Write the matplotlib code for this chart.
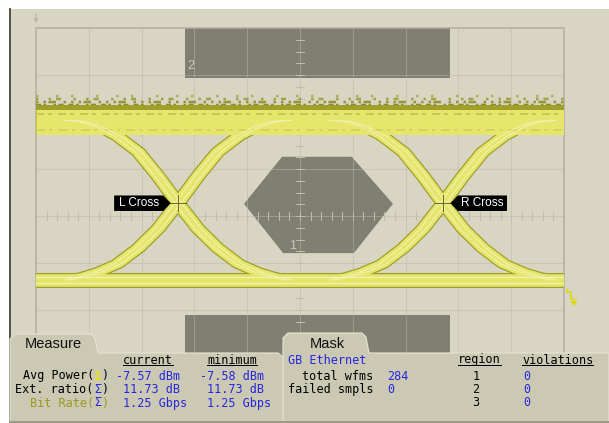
import matplotlib
matplotlib.use('Agg')
import matplotlib.pyplot as plt
from matplotlib.patches import Polygon, Rectangle
import numpy as np

# --- eye diagram, in screen divisions (10 x 8, centre = 0) ---
top_level = 2.04
bottom_level = -1.36
crossings = [2.69, 7.71]
# rising edge: time from crossing (div) / fraction of swing
edge_dt = [-2.1, -1.8, -1.5, -1.15, -0.75, -0.38, 0.0, 0.38, 0.75, 1.15, 1.5, 1.8, 2.1]
edge_frac = [0.0, 0.02, 0.05, 0.1, 0.2, 0.32, 0.48, 0.65, 0.8, 0.9, 0.96, 0.99, 1.0]

# mask regions
mask1_t = [3.94, 4.66, 5.98, 6.76, 6.02, 4.68]
mask1_v = [0.26, 1.26, 1.26, 0.26, -0.79, -0.79]
mask2_t = [2.82, 7.84]
mask2_v = [2.94, 4.0]
mask3_t = [2.82, 7.84]
mask3_v = [-4.0, -2.11]

# measurement panel
meas_names = ['Avg Power', 'Ext. ratio', 'Bit Rate']
meas_src = ['1', 'Σ', 'Σ']
meas_current = ['-7.57 dBm', '11.73 dB', '1.25 Gbps']
meas_minimum = ['-7.58 dBm', '11.73 dB', '1.25 Gbps']
mask_name = 'GB Ethernet'
total_wfms = 284
failed_smpls = 0
mask_regions = ['1', '2', '3']
mask_violations = [0, 0, 0]

W, H = 609, 423
PX = 0.72  # px -> pt
BG = '#d8d6c3'
MASK = '#817f71'
OLIVE = '#9f9f2c'
YEL = '#e6e66c'
BLUE = '#2626e0'
MONO = 'DejaVu Sans Mono'
SANS = 'Liberation Sans'

fig = plt.figure(figsize=(W / 100, H / 100), dpi=100)
fig.patch.set_facecolor('white')


def pixel_axes(z):
    ax = fig.add_axes([0, 0, 1, 1])
    ax.set_xlim(0, W)
    ax.set_ylim(H, 0)
    ax.axis('off')
    ax.set_zorder(z)
    ax.patch.set_alpha(0)
    return ax


# background
bg = pixel_axes(0)
bg.add_patch(Rectangle((9, 9), W - 9, H - 9, color=BG, lw=0))
bg.plot([9.5, 9.5], [9, H], color='#56564c', lw=2 * PX)
bg.annotate('', xy=(36, 26), xytext=(36, 11),
            arrowprops=dict(arrowstyle='-|>', color='#bdb7ab', lw=1.2 * PX, mutation_scale=6))
# ground marker on the right
bg.plot([567, 571, 571, 574, 574], [292, 292, 299, 299, 302], color='#e0d800', lw=1.5 * PX)
bg.add_patch(Polygon([[570.5, 301], [577.5, 301], [574, 306]], color='#e0d800', lw=0))
bg.plot([567, 567], [289, 292], color='#e0d800', lw=1.5 * PX)

# scope screen
ax = fig.add_axes([36 / W, 1 - 404 / H, 528 / W, 376 / H])
ax.set_zorder(1)
ax.patch.set_alpha(0)
ax.set_xlim(0, 10)
ax.set_ylim(-4, 4)
ax.axis('off')

ax.add_patch(Polygon(np.column_stack([mask1_t, mask1_v]), color=MASK, lw=0, zorder=1))
ax.add_patch(Rectangle((mask2_t[0], mask2_v[0]), mask2_t[1] - mask2_t[0], mask2_v[1] - mask2_v[0],
                       color=MASK, lw=0, zorder=1))
ax.add_patch(Rectangle((mask3_t[0], mask3_v[0]), mask3_t[1] - mask3_t[0], mask3_v[1] - mask3_v[0],
                       color=MASK, lw=0, zorder=1))
ax.text(mask2_t[0] + 0.05, mask2_v[0] + 0.12, '2', color='#cfcbb8', fontsize=9, family=SANS,
        ha='left', va='bottom', zorder=2)
ax.text(4.85, -0.64, '1', color='#cfcbb8', fontsize=9, family=SANS, ha='center', va='center', zorder=2)

# graticule
gc = '#bdb8a6'
for i in range(1, 10):
    ax.plot([i, i], [-4, 4], color=gc, lw=1 * PX, ls=(0, (1, 1)), zorder=3)
for j in range(-3, 4):
    ax.plot([0, 10], [j, j], color=gc, lw=1 * PX, ls=(0, (1, 1)), zorder=3)
for t in np.arange(0.2, 10, 0.2):
    ax.plot([t, t], [-0.08, 0.08], color='#c2bcaa', lw=1 * PX, zorder=3)
for v in np.arange(-3.75, 4, 0.25):
    ax.plot([4.92, 5.08], [v, v], color='#c2bcaa', lw=1 * PX, zorder=3)
ax.add_patch(Rectangle((0, -4), 10, 8, fill=False, ec='#b4aba0', lw=1.5 * PX, zorder=3, clip_on=False))

# eye traces
paths = []
swing = top_level - bottom_level
edge_v = bottom_level + np.array(edge_frac) * swing
for c in crossings:
    for off in (-0.06, 0.06):
        paths.append((c + np.array(edge_dt) + off, edge_v))
        paths.append((c - np.array(edge_dt) + off, edge_v))
# flat levels
bot_paths = [([0, 10], [bottom_level + d, bottom_level + d]) for d in (-0.07, 0.07)]

# speckled fringe on the "one" level
fringe = [(0.27, '#7f7f22', (0, (1, 1, 2, 1, 1, 2, 3, 1))),
          (0.33, '#8c8c2a', (0, (2, 1, 1, 3, 1, 1, 2, 2))),
          (0.39, '#96963a', (0, (1, 2, 1, 1, 3, 3, 1, 2))),
          (0.45, '#a2a24a', (0, (1, 4, 1, 2, 2, 5))),
          (0.51, '#adad5a', (0, (1, 7, 1, 5, 1, 9)))]
for dv, col, ls in fringe:
    ax.plot([0, 10], [top_level + dv, top_level + dv], color=col, lw=2.5 * PX, ls=ls, zorder=4)

# outlines
ax.plot([0, 10], [top_level, top_level], color=OLIVE, lw=30 * PX, zorder=5, solid_capstyle='butt')
for t, v in paths + bot_paths:
    ax.plot(t, v, color=OLIVE, lw=9 * PX, zorder=5, solid_joinstyle='round')
# fill
ax.plot([0, 10], [top_level - 0.04, top_level - 0.04], color=YEL, lw=25 * PX, zorder=6, solid_capstyle='butt')
for t, v in paths + bot_paths:
    ax.plot(t, v, color=YEL, lw=6.5 * PX, zorder=6, solid_joinstyle='round')
ax.plot([0, 10], [top_level + 0.12, top_level + 0.12], color='#c8c850', lw=2 * PX, zorder=6,
        ls=(0, (4, 2, 2, 3)))
ax.plot([0, 10], [top_level - 0.2, top_level - 0.2], color='#cfcf58', lw=1.5 * PX, zorder=6,
        ls=(0, (6, 3, 2, 4)))
for t, v in paths + bot_paths:
    ax.plot(t, v, color='#f2f2b4', lw=1 * PX, zorder=7)

# crossing markers and labels
v_cross = bottom_level + edge_frac[edge_dt.index(0.0)] * swing
for k, c in enumerate(crossings):
    ax.plot([c - 0.15, c + 0.15], [v_cross, v_cross], color='#6d6d1c', lw=1 * PX, zorder=8)
    ax.plot([c, c], [v_cross - 0.17, v_cross + 0.17], color='#6d6d1c', lw=1 * PX, zorder=8)
    s = -1 if k == 0 else 1
    tip = c + s * 0.14
    body = c + s * 0.28
    end = c + s * 1.21
    h = 0.165
    ax.add_patch(Polygon([[tip, v_cross], [body, v_cross + h], [end, v_cross + h],
                          [end, v_cross - h], [body, v_cross - h]], color='black', lw=0, zorder=8))
    ax.text((body + end) / 2, v_cross, 'L Cross' if k == 0 else 'R Cross', color='white',
            fontsize=8.5, family=SANS, ha='center', va='center', zorder=9)

# bottom panels
ov = pixel_axes(2)
PANEL = '#cbc9b3'
measure_poly = [(10, H), (10, 339), (15, 334), (91, 334), (95, 338), (98, 353),
                (278, 353), (284, 358), (284, H)]
mask_poly = [(283, H), (283, 338), (288, 333), (362, 333), (366, 337), (369, 353), (W, 353), (W, H)]
for poly in (measure_poly, mask_poly):
    ov.add_patch(Polygon(poly, closed=True, fc=PANEL, ec='#e4e2d0', lw=1.2 * PX))
ov.plot([10, W], [H - 1, H - 1], color='#9c9a86', lw=2 * PX)

ov.text(25, 344, 'Measure', family=SANS, fontsize=10.5, va='center', ha='left', color='#111111')
ov.text(310, 344, 'Mask', family=SANS, fontsize=10.5, va='center', ha='left', color='#111111')

cw = 7.1
fs = 8.5
rows_y = [376, 389.5, 403]
head_y = 360

for x0, word in ((123, 'current'), (207, 'minimum'), (458, 'region'), (522, 'violations')):
    ov.text(x0, head_y, word, family=MONO, fontsize=fs, va='center', ha='left', color='black')
    ov.plot([x0, x0 + len(word) * cw], [head_y + 5.5, head_y + 5.5], color='black', lw=1 * PX)

for i, y in enumerate(rows_y):
    lab_col = '#9a9a1e' if meas_names[i] == 'Bit Rate' else 'black'
    src_col = '#ece400' if meas_src[i] == '1' else BLUE
    ov.text(108, y, ')', family=MONO, fontsize=fs, va='center', ha='right', color=lab_col)
    ov.text(108 - cw, y, meas_src[i], family=MONO, fontsize=fs, va='center', ha='right', color=src_col,
            fontweight='bold' if meas_src[i] == '1' else 'normal')
    ov.text(108 - 2 * cw, y, meas_names[i] + '(', family=MONO, fontsize=fs, va='center', ha='right',
            color=lab_col)
    for x0, val in ((123, meas_current[i]), (207, meas_minimum[i])):
        xs = x0 - cw if val.startswith('-') else x0
        ov.text(xs, y, val, family=MONO, fontsize=fs, va='center', ha='left', color=BLUE)

ov.text(288, head_y, mask_name, family=MONO, fontsize=fs, va='center', ha='left', color=BLUE)
ov.text(373, rows_y[0], 'total wfms', family=MONO, fontsize=fs, va='center', ha='right', color='black')
ov.text(387, rows_y[0], str(total_wfms), family=MONO, fontsize=fs, va='center', ha='left', color=BLUE)
ov.text(373, rows_y[1], 'failed smpls', family=MONO, fontsize=fs, va='center', ha='right', color='black')
ov.text(387, rows_y[1], str(failed_smpls), family=MONO, fontsize=fs, va='center', ha='left', color=BLUE)
for i, y in enumerate(rows_y):
    ov.text(476, y, mask_regions[i], family=MONO, fontsize=fs, va='center', ha='center', color='black')
    ov.text(523, y, str(mask_violations[i]), family=MONO, fontsize=fs, va='center', ha='left', color=BLUE)

fig.savefig('out.png', dpi=100, facecolor=fig.get_facecolor())
